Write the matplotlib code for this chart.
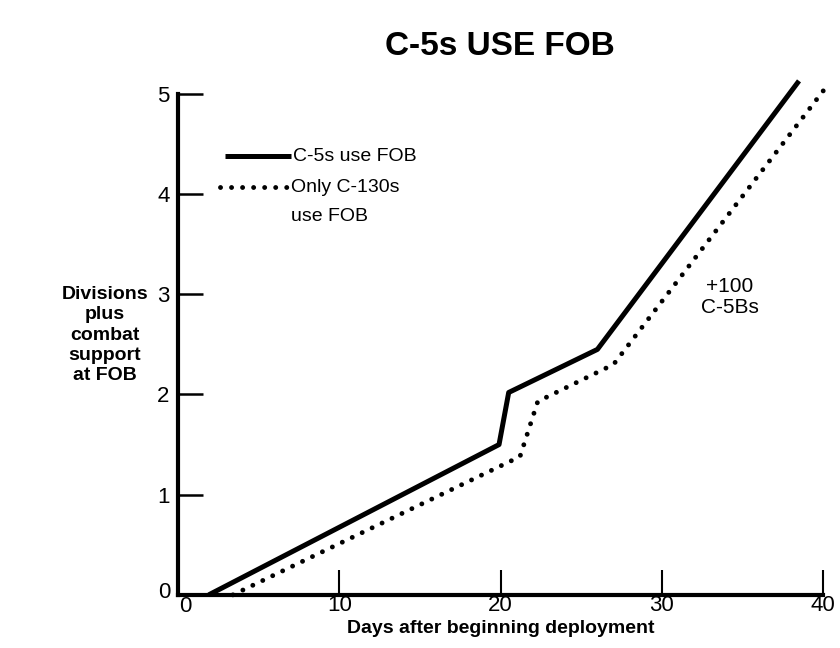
import matplotlib.pyplot as plt

# --------------------------------------------------------------
# data
# --------------------------------------------------------------
c5_days = [1.9, 19.9, 20.5, 26.0, 38.5]
c5_divs = [0.0, 1.50, 2.02, 2.45, 5.13]

c130_days = [3.4, 21.2, 22.3, 27.0, 40.0]
c130_divs = [0.0, 1.38, 1.93, 2.30, 5.03]

x_ticks = [10, 20, 30, 40]
y_ticks = [1, 2, 3, 4, 5]

plt.rcParams["font.family"] = ["Liberation Sans", "DejaVu Sans"]

fig = plt.figure(figsize=(8.4, 6.48), dpi=100)
ax = fig.add_axes([0.212, 0.082, 0.768, 0.804])

ax.plot(c5_days, c5_divs, color="black", linewidth=3.6,
        solid_capstyle="butt", clip_on=False)
ax.plot(c130_days, c130_divs, color="black", linewidth=3.5,
        linestyle=(0, (0.01, 2.26)), dash_capstyle="round", clip_on=False)

ax.set_xlim(0, 40)
ax.set_ylim(0, 5.2)

for s in ["top", "right"]:
    ax.spines[s].set_visible(False)
ax.spines["left"].set_linewidth(3)
ax.spines["bottom"].set_linewidth(3)
ax.spines["left"].set_bounds(0, 5)
ax.spines["bottom"].set_bounds(0, 40)

ax.set_xticks(x_ticks)
ax.set_yticks(y_ticks)
ax.tick_params(axis="x", direction="in", length=18, width=1.5,
               labelsize=16, pad=0)
ax.tick_params(axis="y", direction="in", length=18, width=1.8,
               labelsize=16, pad=6)
# zero labels outside the tick range
ax.text(-0.5, 0.02, "0", ha="right", va="center", fontsize=16)
ax.text(0.45, -0.015, "0", ha="center", va="top", fontsize=16)

ax.set_xlabel("Days after beginning deployment", fontsize=14,
              fontweight="semibold", labelpad=3)
fig.text(0.125, 0.483, "Divisions\nplus\ncombat\nsupport\nat FOB",
         ha="center", va="center", fontsize=14, fontweight="semibold",
         linespacing=1.25)

fig.suptitle("C-5s USE FOB", x=0.595, y=0.952, fontsize=24,
             fontweight="bold")

# legend drawn by hand to match the layout
ax.plot([2.9, 7.0], [4.38, 4.38], color="black", linewidth=3.6,
        solid_capstyle="butt")
ax.text(7.1, 4.38, "C-5s use FOB", ha="left", va="center", fontsize=14)
ax.plot([2.6, 6.8], [4.07, 4.07], color="black", linewidth=3.5,
        linestyle=(0, (0.01, 2.26)), dash_capstyle="round")
ax.text(7.0, 4.07, "Only C-130s", ha="left", va="center", fontsize=14)
ax.text(7.0, 3.78, "use FOB", ha="left", va="center", fontsize=14)

ax.text(34.2, 2.97, "+100\nC-5Bs", ha="center", va="center",
        fontsize=15, linespacing=1.15)

plt.savefig("out.png", dpi=100)
